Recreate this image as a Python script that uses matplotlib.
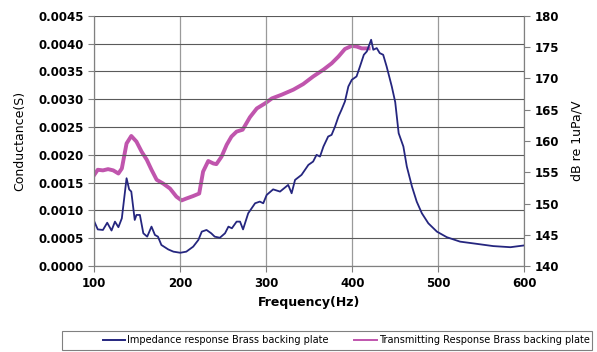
import numpy as np
import matplotlib
matplotlib.use("Agg")
import matplotlib.pyplot as plt
from matplotlib.patches import Rectangle

# impedance response (conductance, left axis)
freq_imp = [100, 104, 110, 115, 120, 124, 128, 132, 137.5, 140.5, 143, 147, 149, 153, 157,
            161.5, 166.5, 170.5, 174, 178, 186, 192, 200, 207, 215, 221, 225, 230.5, 236,
            240, 246, 252, 256, 260, 265.5, 269.5, 273, 279, 287, 292.5, 296.5, 300.5, 308,
            316, 325.5, 329.5, 333.5, 341, 349, 354.5, 358.5, 362.5, 366.5, 372, 376, 380,
            384, 387.5, 391.5, 395.5, 399.5, 405, 409, 413.5, 417, 422, 424.5, 428.5, 432,
            436, 440, 446, 450, 454, 459.5, 463.5, 469.5, 475, 481, 488.5, 498.5, 510,
            525.5, 545, 564, 584, 599]
cond = [0.00080, 0.00066, 0.00065, 0.00078, 0.00064, 0.00080, 0.00070, 0.00086, 0.00158,
        0.00138, 0.00134, 0.00083, 0.00092, 0.00092, 0.00059, 0.00053, 0.00071, 0.00056,
        0.00053, 0.00038, 0.00030, 0.00026, 0.00024, 0.00026, 0.00035, 0.00047, 0.00062,
        0.00065, 0.00059, 0.00053, 0.00051, 0.00059, 0.00071, 0.00068, 0.00080, 0.00080,
        0.00066, 0.00095, 0.00113, 0.00116, 0.00113, 0.00128, 0.00138, 0.00134, 0.00146,
        0.00131, 0.00155, 0.00164, 0.00182, 0.00188, 0.00200, 0.00197, 0.00215, 0.00233,
        0.00236, 0.00251, 0.00269, 0.00281, 0.00296, 0.00323, 0.00335, 0.00341, 0.00359,
        0.00380, 0.00386, 0.00407, 0.00389, 0.00392, 0.00383, 0.00380, 0.00359, 0.00323,
        0.00295, 0.00239, 0.00215, 0.00179, 0.00143, 0.00116, 0.00095, 0.00077, 0.00062,
        0.00052, 0.00044, 0.00040, 0.00036, 0.00034, 0.00037]

# transmitting response (dB, right axis)
freq_tx = [100, 104, 110, 116, 122, 128, 132, 137.5, 143, 149, 155, 161, 166.5, 172.5,
           180, 188, 195.5, 201.5, 207, 215, 222, 226.5, 232.5, 238.5, 242, 248, 254,
           259.5, 265.5, 272.5, 281, 289, 298.5, 306.5, 318, 331.5, 343, 354.5, 366.5,
           376, 384, 391.5, 399.5, 405, 411, 419]
tvr = [154.6, 155.4, 155.3, 155.5, 155.3, 154.8, 155.6, 159.6, 160.8, 159.9, 158.3, 157.0,
       155.4, 153.8, 153.2, 152.4, 151.1, 150.5, 150.8, 151.2, 151.6, 155.1, 156.8, 156.4,
       156.3, 157.5, 159.4, 160.7, 161.5, 161.8, 163.8, 165.2, 166.0, 166.8, 167.4, 168.2,
       169.1, 170.3, 171.4, 172.4, 173.5, 174.7, 175.2, 175.1, 174.8, 174.8]

fig = plt.figure(figsize=(5.97, 3.52), dpi=100)
ax = fig.add_axes([0.158, 0.244, 0.720, 0.711])
ax2 = ax.twinx()
ax.set_zorder(ax2.get_zorder() + 1)
ax.patch.set_visible(False)

ax.plot(freq_imp, cond, color="#25267F", lw=1.3, label="Impedance response Brass backing plate")
ax2.plot(freq_tx, tvr, color="#C055AD", lw=2.8, label="Transmitting Response Brass backing plate")

ax.set_xlim(100, 600)
ax.set_ylim(0, 0.0045)
ax2.set_ylim(140, 180)
ax.set_xticks(np.arange(100, 601, 100))
ax.set_yticks(np.arange(0, 0.00451, 0.0005))
ax.set_yticklabels(["%.4f" % v for v in np.arange(0, 0.00451, 0.0005)])
ax2.set_yticks(np.arange(140, 181, 5))

ax.grid(axis="x", color="#9a9a9a", lw=0.9)
ax.grid(axis="y", color="#5a5a5a", lw=0.8)
ax.set_axisbelow(True)

for a in (ax, ax2):
    for s in a.spines.values():
        s.set_color("#808080")
    a.tick_params(length=4, color="#808080", labelsize=8.5)
    for t in a.get_xticklabels() + a.get_yticklabels():
        t.set_fontweight("bold")
ax.spines["top"].set_visible(False)
ax2.spines["top"].set_visible(False)

ax.set_xlabel("Frequency(Hz)", fontsize=9, fontweight="bold", labelpad=5)
ax.set_ylabel("Conductance(S)", fontsize=9, labelpad=9)
ax2.set_ylabel("dB re 1uPa/V", fontsize=9, labelpad=8)

# legend box, wider than its entries
fig.patches.append(Rectangle((62 / 597, 2 / 352), 530 / 597, 19 / 352,
                             transform=fig.transFigure, fill=False,
                             edgecolor="#808080", lw=0.8))
h1, l1 = ax.get_legend_handles_labels()
h2, l2 = ax2.get_legend_handles_labels()
leg = fig.legend(h1 + h2, l1 + l2, loc="center", ncol=2, bbox_to_anchor=(0.580, 0.033),
                 fontsize=7, frameon=False, handlelength=2.3, handletextpad=0.25,
                 columnspacing=2.6)
for line in leg.get_lines():
    line.set_linewidth(1.4)

fig.savefig("out.png", dpi=100)
